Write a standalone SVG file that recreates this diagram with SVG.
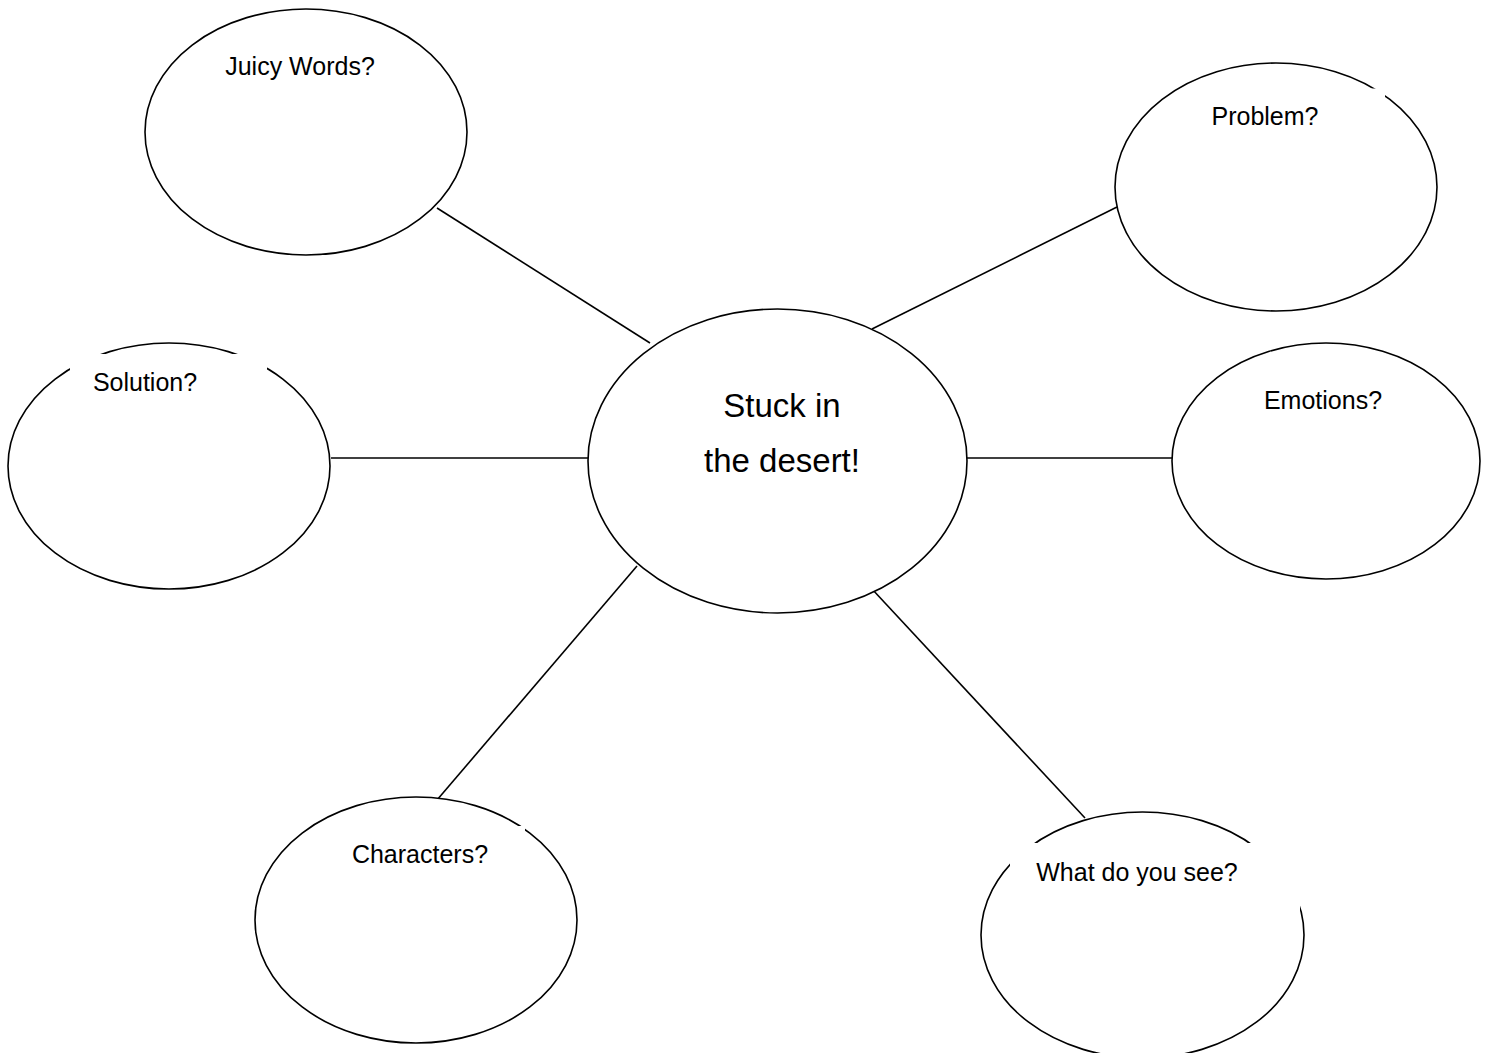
<svg xmlns="http://www.w3.org/2000/svg" width="1505" height="1053" viewBox="0 0 1505 1053">
  <style>
    .node { fill: #ffffff; stroke: #000000; stroke-width: 1.6; }
    .mask { fill: #ffffff; stroke: none; }
    .conn { stroke: #000000; stroke-width: 1.6; fill: none; }
    .lbl { font-family: "Liberation Sans", Arial, sans-serif; font-size: 25px; fill: #000000; text-anchor: middle; }
    .big { font-family: "Liberation Sans", Arial, sans-serif; font-size: 33px; fill: #000000; text-anchor: middle; }
  </style>
  <rect width="1505" height="1053" fill="#ffffff"/>
  <g id="connectors">
    <line class="conn" x1="437" y1="208" x2="650" y2="343"/>
    <line class="conn" x1="1117" y1="207" x2="872" y2="329"/>
    <line class="conn" x1="331" y1="458" x2="589" y2="458"/>
    <line class="conn" x1="967" y1="458" x2="1173" y2="458"/>
    <line class="conn" x1="637" y1="566" x2="437" y2="800"/>
    <line class="conn" x1="872" y1="589" x2="1085" y2="818"/>
  </g>
  <g id="node-center">
    <ellipse class="node" cx="777.5" cy="461" rx="189.5" ry="152"/>
    <text class="big" x="782" y="417">Stuck in</text>
    <text class="big" x="782" y="472">the desert!</text>
  </g>
  <g id="node-juicy">
    <ellipse class="node" cx="306" cy="132" rx="161" ry="123"/>
    <text class="lbl" x="300" y="75">Juicy Words?</text>
  </g>
  <g id="node-problem">
    <ellipse class="node" cx="1276" cy="187" rx="161" ry="124"/>
    <rect class="mask" x="1190" y="88.5" width="195" height="50"/>
    <text class="lbl" x="1265" y="125">Problem?</text>
  </g>
  <g id="node-solution">
    <ellipse class="node" cx="169" cy="466" rx="161" ry="123"/>
    <rect class="mask" x="70" y="354" width="197" height="50"/>
    <text class="lbl" x="145" y="391">Solution?</text>
  </g>
  <g id="node-emotions">
    <ellipse class="node" cx="1326" cy="461" rx="154" ry="118"/>
    <text class="lbl" x="1323" y="409">Emotions?</text>
  </g>
  <g id="node-characters">
    <ellipse class="node" cx="416" cy="920" rx="161" ry="123"/>
    <rect class="mask" x="320" y="826" width="205" height="50"/>
    <text class="lbl" x="420" y="863">Characters?</text>
  </g>
  <g id="node-see">
    <ellipse class="node" cx="1142.5" cy="935" rx="161.5" ry="123"/>
    <rect class="mask" x="1010" y="843" width="290" height="72"/>
    <text class="lbl" x="1137" y="881">What do you see?</text>
  </g>
</svg>
